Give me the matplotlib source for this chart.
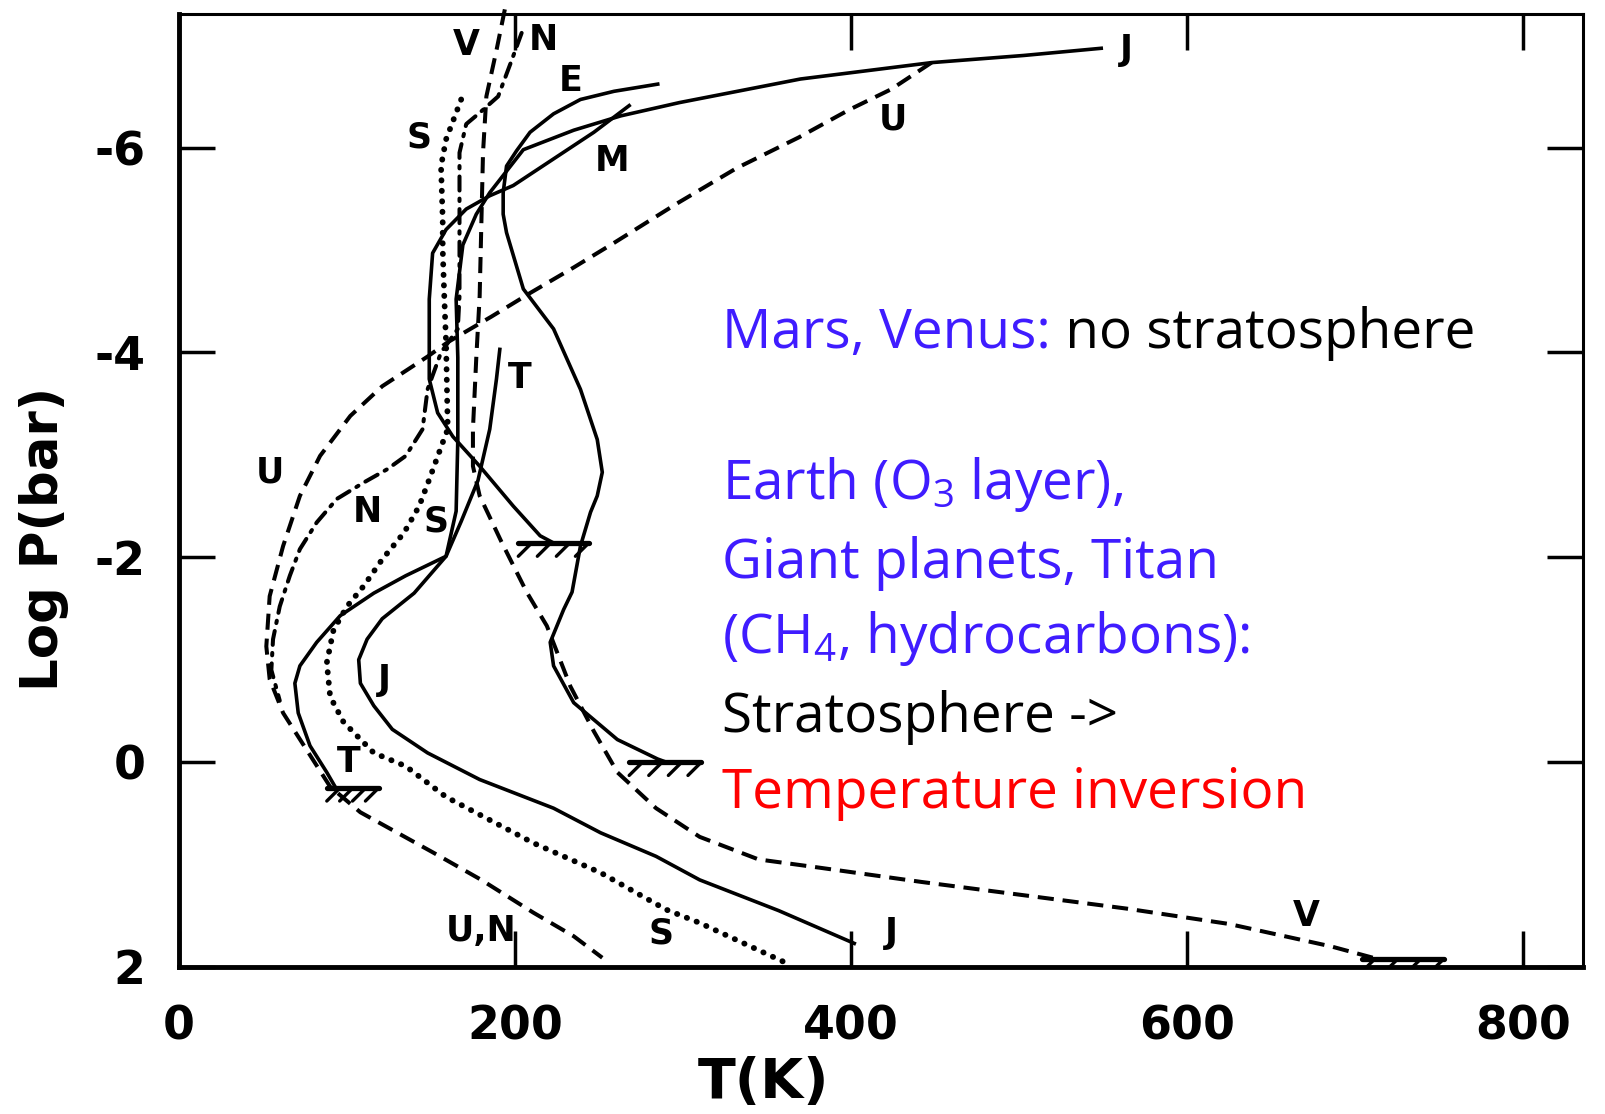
# %%
# Vertical temperature profiles of planetary atmospheres: T(K) vs log P(bar)
import numpy as np
import matplotlib.pyplot as plt

plt.rcParams['mathtext.fontset'] = 'custom'
plt.rcParams['mathtext.rm'] = 'Open Sans'
plt.rcParams['mathtext.it'] = 'Open Sans:italic'

# profiles (T in K, log10 P in bar)
venus_T = [194, 189, 183, 181, 180, 179, 177, 175, 175, 179, 192, 207, 219, 233, 247, 261, 284, 310, 345, 381, 442, 503, 564, 625, 686, 713]
venus_logP = [-7.35, -6.95, -6.5, -5.95, -5.25, -4.55, -3.95, -3.25, -2.89, -2.6, -2.15, -1.66, -1.33, -0.74, -0.3, 0.1, 0.45, 0.73, 0.95, 1.03, 1.17, 1.3, 1.43, 1.58, 1.8, 1.92]

earth_T = [285, 259, 239, 223, 209, 201, 195, 193, 193, 195, 205, 223, 239, 249, 252, 249, 245, 239, 234, 229, 221, 223, 235, 261, 285, 290]
earth_logP = [-6.62, -6.55, -6.47, -6.33, -6.15, -5.97, -5.82, -5.56, -5.35, -5.17, -4.62, -4.23, -3.64, -3.15, -2.83, -2.6, -2.44, -2.11, -1.66, -1.49, -1.17, -0.94, -0.58, -0.22, -0.03, 0.0]

mars_T = [268, 247, 199, 185, 171, 159, 151, 149, 149, 154, 163, 179, 199, 215, 223]
mars_logP = [-6.41, -6.15, -5.63, -5.53, -5.4, -5.2, -4.97, -4.52, -3.74, -3.41, -3.18, -2.89, -2.5, -2.21, -2.14]

jup_T = [549, 503, 448, 370, 298, 263, 235, 205, 185, 177, 169, 165, 166, 166, 165, 159, 140, 121, 112, 107, 108, 116, 127, 148, 179, 223, 251, 284, 310, 357, 402]
jup_logP = [-6.97, -6.9, -6.83, -6.67, -6.44, -6.31, -6.17, -5.98, -5.56, -5.35, -5.05, -4.52, -3.95, -3.15, -2.45, -2.01, -1.65, -1.4, -1.2, -1.0, -0.77, -0.55, -0.32, -0.09, 0.17, 0.45, 0.69, 0.92, 1.15, 1.45, 1.77]

sat_T = [168, 159, 156, 157, 157, 158, 159, 160, 157, 149, 143, 134, 121, 110, 100, 92, 88, 90, 98, 116, 135, 159, 211, 251, 290, 310, 360]
sat_logP = [-6.47, -6.08, -5.82, -5.3, -5.01, -4.52, -4.1, -3.25, -3.12, -2.76, -2.5, -2.24, -1.98, -1.72, -1.52, -1.29, -0.97, -0.64, -0.39, -0.09, 0.04, 0.34, 0.79, 1.08, 1.44, 1.57, 1.95]

titan_T = [191, 189, 185, 178, 168, 159, 135, 116, 96, 82, 72, 69, 71, 78, 88, 94]
titan_logP = [-4.03, -3.74, -3.25, -2.75, -2.35, -2.01, -1.82, -1.65, -1.43, -1.17, -0.94, -0.77, -0.48, -0.16, 0.1, 0.27]

ura_T = [448, 424, 399, 369, 332, 296, 259, 235, 209, 186, 160, 148, 121, 102, 84, 72, 62, 54, 52, 54, 62, 76, 90, 108, 151, 180, 211, 235, 252]
ura_logP = [-6.83, -6.57, -6.37, -6.1, -5.8, -5.45, -5.07, -4.83, -4.58, -4.35, -4.1, -3.96, -3.67, -3.38, -2.99, -2.6, -2.11, -1.62, -1.13, -0.81, -0.48, -0.12, 0.24, 0.49, 0.88, 1.15, 1.47, 1.7, 1.91]

nep_T = [204, 198, 190, 179, 171, 167, 167, 167, 166, 156, 148, 145, 135, 124, 110, 94, 82, 72, 66, 60, 56, 55, 60]
nep_logP = [-7.12, -6.85, -6.5, -6.34, -6.23, -5.95, -5.25, -4.55, -4.23, -4.0, -3.64, -3.25, -2.99, -2.86, -2.73, -2.57, -2.34, -2.08, -1.82, -1.52, -1.2, -0.9, -0.6]

# solid surfaces: T range of the hatched bar and its log P
surf_names = ['Mars', 'Earth', 'Titan', 'Venus']
surf_T_lo = [202, 268, 88, 704]
surf_T_hi = [244, 311, 119, 753]
surf_logP = [-2.14, 0.0, 0.25, 1.92]

# curve letters
lab_text = ['V', 'N', 'E', 'S', 'M', 'J', 'U', 'T', 'U', 'N', 'S', 'J', 'T', 'U,N', 'S', 'J', 'V']
lab_T = [171, 217, 233, 143, 258, 564, 425, 203, 54, 112, 153, 122, 101, 180, 287, 424, 671]
lab_logP = [-7.0, -7.05, -6.65, -6.1, -5.87, -6.95, -6.27, -3.75, -2.83, -2.44, -2.35, -0.8, 0.0, 1.65, 1.67, 1.67, 1.5]

xticks = [0, 200, 400, 600, 800]
yticks = [-6, -4, -2, 0, 2]

BLUE = '#3f1cff'
hand = dict(family='DejaVu Sans', fontweight='bold')

fig = plt.figure(figsize=(16.05, 11.14), dpi=100)
ax = fig.add_axes([0.1115, 0.132, 0.875, 0.855])

lw = 2.6
ax.plot(jup_T, jup_logP, color='k', lw=lw)
ax.plot(earth_T, earth_logP, color='k', lw=lw)
ax.plot(mars_T, mars_logP, color='k', lw=lw)
ax.plot(titan_T, titan_logP, color='k', lw=lw)
ax.plot(venus_T, venus_logP, color='k', lw=lw + 0.3, dashes=(4, 2.2), clip_on=False)
ax.plot(ura_T, ura_logP, color='k', lw=lw + 0.3, dashes=(4, 2.2))
ax.plot(nep_T, nep_logP, color='k', lw=lw + 0.3, dashes=(3.5, 2, 0.6, 2),
        dash_capstyle='round', clip_on=False)
ax.plot(sat_T, sat_logP, color='k', lw=4.2, linestyle=(0, (0.05, 1.75)),
        dash_capstyle='round')

# hatched surfaces
for lo, hi, p in zip(surf_T_lo, surf_T_hi, surf_logP):
    ax.plot([lo, hi], [p, p], color='k', lw=3.8, solid_capstyle='round')
    for x in np.linspace(lo + 8, hi, 4):
        ax.plot([x, x - 8], [p, p + 0.13], color='k', lw=2.4, solid_capstyle='round')

for s, x, y in zip(lab_text, lab_T, lab_logP):
    ax.text(x, y, s, fontsize=25, ha='center', va='center', **hand)

ax.set_xlim(0, 836)
ax.set_ylim(2, -7.3)
ax.set_xticks(xticks)
ax.set_xticklabels([str(v) for v in xticks], fontsize=33, **hand)
ax.set_yticks(yticks)
ax.set_yticklabels(['-6', '-4', '-2', '0', '2'], fontsize=33, **hand)
ax.tick_params(axis='both', direction='in', length=26, width=2.5,
               top=True, right=True)
ax.tick_params(axis='x', pad=27)
ax.tick_params(axis='y', pad=24)
for side in ['left', 'bottom']:
    ax.spines[side].set_linewidth(3.5)
for side in ['top', 'right']:
    ax.spines[side].set_linewidth(2.2)

ax.set_xlabel('T(K)', fontsize=40, **hand)
ax.xaxis.set_label_coords(0.416, -0.093)
ax.set_ylabel('Log P(bar)', fontsize=37, **hand)
ax.yaxis.set_label_coords(-0.078, 0.449)

# annotation block on the right
tf = dict(family='Open Sans', fontsize=39.5)
x0 = 0.45
base = 0.676
step = 0.0689
t1 = fig.text(x0, base, 'Mars, Venus:', color=BLUE, va='bottom', **tf)
ax.annotate(' no stratosphere', xy=(1, 0), xycoords=t1, va='bottom', ha='left',
            color='k', **tf)
lines = [('Earth (O$_3$ layer),', BLUE),
         ('Giant planets, Titan', BLUE),
         ('(CH$_4$, hydrocarbons):', BLUE),
         ('Stratosphere ->', 'k'),
         ('Temperature inversion', 'red')]
for i, (s, c) in enumerate(lines):
    fig.text(x0, base - (i + 2) * step, s, color=c, va='bottom', **tf)

fig.savefig('out.png', dpi=100)
